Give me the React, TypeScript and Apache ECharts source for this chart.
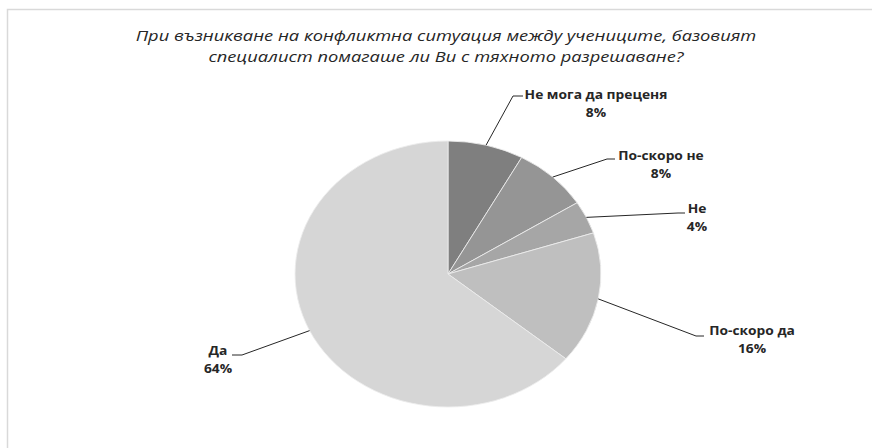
import React, { useEffect, useRef } from "react";
import * as echarts from "echarts";

const titleLines = [
  "При възникване на конфликтна ситуация между учениците, базовият",
  "специалист помагаше ли Ви с тяхното разрешаване?",
];
const categories = ["Не мога да преценя", "По-скоро не", "Не", "По-скоро да", "Да"];
const values = [8, 8, 4, 16, 64];
const colors = ["#7f7f7f", "#959595", "#a6a6a6", "#bfbfbf", "#d6d6d6"];

// label layout: elbow point, dash end, text centre (page pixels)
const labelLayout = [
  { ex: 513, ey: 96, dx: 523, tx: 596, ty: 103 },
  { ex: 607, ey: 159, dx: 615, tx: 661, ty: 164.5 },
  { ex: 678, ey: 213, dx: 685, tx: 697, ty: 217 },
  { ex: 696, ey: 336, dx: 704, tx: 752, ty: 339.5 },
  { ex: 242, ey: 355, dx: 232, tx: 218, ty: 359 },
];

const PIE = { cx: 448, cy: 274, rx: 153, ry: 133 };

export default function App() {
  const ref = useRef<HTMLDivElement>(null);
  useEffect(() => {
    if (!ref.current) return;
    const chart = echarts.init(ref.current, null, { renderer: "svg" });
    const total = values.reduce((a, b) => a + b, 0);
    const cum: number[] = [];
    let acc = 0;
    values.forEach((v) => {
      cum.push(acc);
      acc += v;
    });
    const option = {
      animation: false,
      backgroundColor: "#ffffff",
      graphic: [
        {
          type: "rect",
          shape: { x: 7.5, y: 9.5, width: 900, height: 480 },
          style: { fill: "none", stroke: "#d9d9d9", lineWidth: 1.5 },
          silent: true,
        },
        {
          type: "text",
          x: 446,
          y: 45.5,
          scaleX: 1.22,
          silent: true,
          style: {
            text: titleLines.join("\n"),
            x: 0,
            y: 0,
            align: "center",
            verticalAlign: "middle",
            fontFamily: "Open Sans",
            fontStyle: "italic",
            fontWeight: "normal",
            fontSize: 15,
            lineHeight: 21,
            fill: "#262626",
          },
        },
      ],
      series: [
        {
          type: "custom",
          coordinateSystem: "none",
          data: values.map((v, i) => ({ name: categories[i], value: v })),
          renderItem: (params: any, api: any) => {
            const i = params.dataIndex;
            const v = api.value(0);
            const start = -Math.PI / 2 + (cum[i] / total) * Math.PI * 2;
            const end = -Math.PI / 2 + ((cum[i] + v) / total) * Math.PI * 2;
            const mid = (start + end) / 2;
            const sx = PIE.cx + PIE.rx * Math.cos(mid);
            const sy = PIE.cy + PIE.ry * Math.sin(mid);
            const L = labelLayout[i];
            const pct = Math.round((v / total) * 100) + "%";
            return {
              type: "group",
              children: [
                {
                  type: "sector",
                  x: PIE.cx,
                  y: PIE.cy,
                  scaleX: PIE.rx / PIE.ry,
                  scaleY: 1,
                  shape: { cx: 0, cy: 0, r0: 0, r: PIE.ry, startAngle: start, endAngle: end, clockwise: true },
                  style: { fill: colors[i], stroke: "#ececec", lineWidth: 0.8 },
                },
                {
                  type: "polyline",
                  shape: { points: [[sx, sy], [L.ex, L.ey], [L.dx, L.ey]] },
                  style: { fill: "none", stroke: "#262626", lineWidth: 1 },
                },
                {
                  type: "text",
                  x: L.tx,
                  y: L.ty,
                  scaleX: 1.15,
                  style: {
                    text: categories[i] + "\n" + pct,
                    x: 0,
                    y: 0,
                    align: "center",
                    verticalAlign: "middle",
                    fontFamily: "Open Sans",
                    fontWeight: "bold",
                    fontSize: 12,
                    lineHeight: 18,
                    fill: "#262626",
                  },
                },
              ],
            };
          },
        },
      ],
    };
    chart.setOption(option as any);
    return () => chart.dispose();
  }, []);
  return (
    <div
      ref={ref}
      style={{ position: "fixed", left: 0, top: 0, width: 872, height: 448 }}
    />
  );
}
